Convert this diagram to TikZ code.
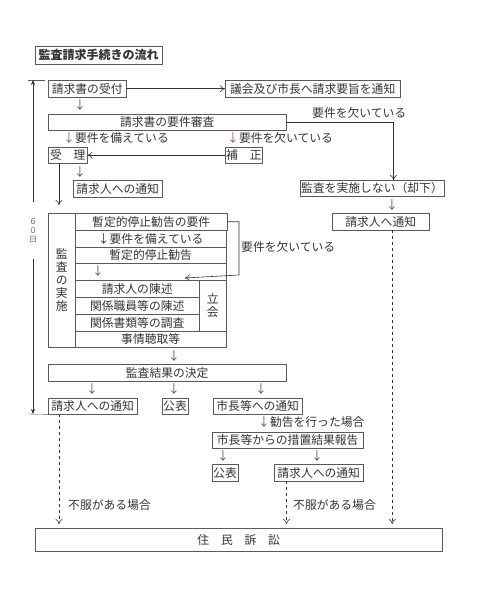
\documentclass[tikz,border=0pt]{standalone}
\usepackage{fontspec}
\setmainfont{Noto Sans CJK JP}
\usetikzlibrary{arrows.meta,positioning,calc}
\definecolor{boxline}{HTML}{5A5A5A}
\definecolor{txtgray}{HTML}{333333}
\definecolor{arrgray}{HTML}{555555}
\definecolor{arrblue}{HTML}{4A6FA5}
\definecolor{arrred}{HTML}{B04A45}
\definecolor{daynum}{HTML}{4A6FA5}
\tikzset{>={To[length=5pt,width=7pt]},
         every node/.style={text=txtgray},
         box/.style={draw=boxline, anchor=north west, inner sep=1pt,
                     minimum height=16pt,
                     font=\fontsize{11.8}{13}\selectfont},
         darr/.style={text=arrgray, inner sep=0pt,
                      font=\fontsize{11.8}{13}\selectfont},
         lbl/.style={anchor=west, inner sep=0pt,
                     font=\fontsize{11.8}{13}\selectfont},
         flow/.style={draw=black!80, line width=0.6pt},
         appeal/.style={draw=black!80, line width=0.6pt, dashed}}
\newcommand{\vtext}[1]{\fontsize{11.8}{13}\selectfont #1}

\begin{document}
\begin{tikzpicture}[x=1pt,y=-1pt]
  \useasboundingbox (0,0) rectangle (483,600);
  \node[box, minimum width=127pt, minimum height=18pt,
        font=\fontsize{12}{14}\selectfont\bfseries] (title) at (35,46) {監査請求手続きの流れ};

  % reception and screening
  \node[box, minimum width=78pt, minimum height=17pt] (uketsuke) at (48,80) {請求書の受付};
  \node[box, minimum width=175pt, minimum height=17pt] (gikai) at (225,80) {議会及び市長へ請求要旨を通知};
  \node[darr] (a1) at (80,105) {↓};
  \node[box, minimum width=238pt] (shinsa) at (48,114) {請求書の要件審査};
  \node[lbl] (sonae) at (63,138) {{\color{arrblue}↓}要件を備えている};
  \node[lbl] (kaku) at (227,138) {{\color{arrred}↓}要件を欠いている};
  \node[box, minimum width=39pt] (juri) at (48,147) {受　理};
  \node[box, minimum width=37pt] (hosei) at (225,147) {補　正};
  \node[darr] (a2) at (80,172) {↓};
  \node[box, minimum width=89pt, minimum height=17pt] (tsuchiA) at (73,180) {請求人への通知};
  \node[box, minimum width=141pt] (kyakka) at (300,180) {監査を実施しない（却下）};
  \node[darr] (a3) at (392,205) {↓};
  \node[box, minimum width=97pt, minimum height=17pt] (tsuchiK) at (332,213) {請求人へ通知};
  \node[lbl] (kakuB) at (312,113) {要件を欠いている};

  % audit block
  \node[box, minimum width=27pt, minimum height=134pt, align=center,
        font=\vtext{}] (jisshi) at (48,213) {監\\査\\の\\実\\施};
  \node[box, minimum width=152pt, minimum height=17pt] (yoken) at (75,213) {暫定的停止勧告の要件};
  \node[box, minimum width=151pt, minimum height=17pt] (ok) at (75,230) {↓要件を備えている};
  \node[box, minimum width=151pt] (kankoku) at (75,247) {暫定的停止勧告};
  \node[box, minimum width=151pt, minimum height=17pt] (blank) at (75,263) {};
  \node[darr] (a4) at (98,271) {↓};
  \node[box, minimum width=124pt, minimum height=17pt] (chinjutsu) at (75,280) {請求人の陳述};
  \node[box, minimum width=124pt, minimum height=17pt] (shokuin) at (75,297) {関係職員等の陳述};
  \node[box, minimum width=124pt, minimum height=17pt] (chosa) at (75,314) {関係書類等の調査};
  \node[box, minimum width=27pt, minimum height=51pt, align=center,
        font=\vtext{}] (tachiai) at (199,280) {立\\会};
  \node[box, minimum width=151pt] (jijo) at (75,331) {事情聴取等};
  \node[lbl] (kakuC) at (241,247) {要件を欠いている};
  \coordinate (brB) at (239,275);
  \coordinate (brEnd) at (185,278);

  % results
  \node[darr] (a5) at (174,356) {↓};
  \node[box, minimum width=238pt, minimum height=17pt] (kekka) at (48,364) {監査結果の決定};
  \node[darr] (a6) at (92,389) {↓};
  \node[darr] (a7) at (174,389) {↓};
  \node[darr] (a8) at (261,389) {↓};
  \node[box, minimum width=89pt] (tsuchiB) at (48,398) {請求人への通知};
  \node[box, minimum width=25pt] (kohyoA) at (162,398) {公表};
  \node[box, minimum width=89pt] (shicho) at (213,398) {市長等への通知};
  \node[lbl] (kankokuB) at (258,422) {{\color{arrgray}↓}勧告を行った場合};
  \node[box, minimum width=151pt] (sochi) at (212,432) {市長等からの措置結果報告};
  \node[darr] (a9) at (223,456) {↓};
  \node[darr] (a10) at (317,456) {↓};
  \node[box, minimum width=25pt, minimum height=17pt] (kohyoB) at (212,464) {公表};
  \node[box, minimum width=89pt, minimum height=17pt] (tsuchiC) at (274,464) {請求人への通知};
  \node[lbl] (fufukuA) at (68,505) {不服がある場合};
  \node[lbl] (fufukuB) at (293,505) {不服がある場合};
  \node[box, minimum width=407pt, minimum height=23pt] (sosho) at (35,528) {住　民　訴　訟};

  % 60 days
  \coordinate (top60) at (28,80);
  \coordinate (bot60) at (28,414);
  \draw[boxline] (top60) -- ++(17,0);
  \draw[boxline] (bot60) -- (tsuchiB.south west);
  \draw[flow, {Stealth[length=5pt,width=4pt]}-{Stealth[length=5pt,width=4pt]}]
    ([xshift=5pt]top60) -- ([xshift=5pt]bot60)
    node[pos=0.45, fill=white, inner xsep=1pt, inner ysep=16pt, align=center,
         text=daynum, font=\fontsize{8}{9}\selectfont] (days) {６\\０\\日};

  % connectors
  \draw[flow, ->] (uketsuke.east) -- (gikai.west);
  \coordinate (kyakkaIn) at ([xshift=21.5pt]kyakka.north);
  \draw[flow, ->] (shinsa.east) -| (kyakkaIn);
  \draw[flow, ->] (hosei.west) -- (juri.east);
  \coordinate (juriOut) at ([xshift=11pt]juri.south west);
  \coordinate (jisshiIn) at ([xshift=11pt,yshift=8pt]jisshi.north west);
  \draw[flow, ->] (juriOut) -- (jisshiIn);
  \draw[flow, ->] (yoken.east) -- (yoken.east -| brB) -- (brB) -- (brEnd);
  \draw[appeal, ->, shorten >=4pt] ([xshift=11.5pt]tsuchiK.south) -- ([xshift=11.5pt]tsuchiK.south |- sosho.north);
  \draw[appeal, ->, shorten >=4pt] ([xshift=11pt]tsuchiB.south west) -- ([xshift=11pt]tsuchiB.south west |- sosho.north);
  \draw[appeal, ->, shorten >=4pt] ([xshift=12.5pt]tsuchiC.south west) -- ([xshift=12.5pt]tsuchiC.south west |- sosho.north);
\end{tikzpicture}
\end{document}
